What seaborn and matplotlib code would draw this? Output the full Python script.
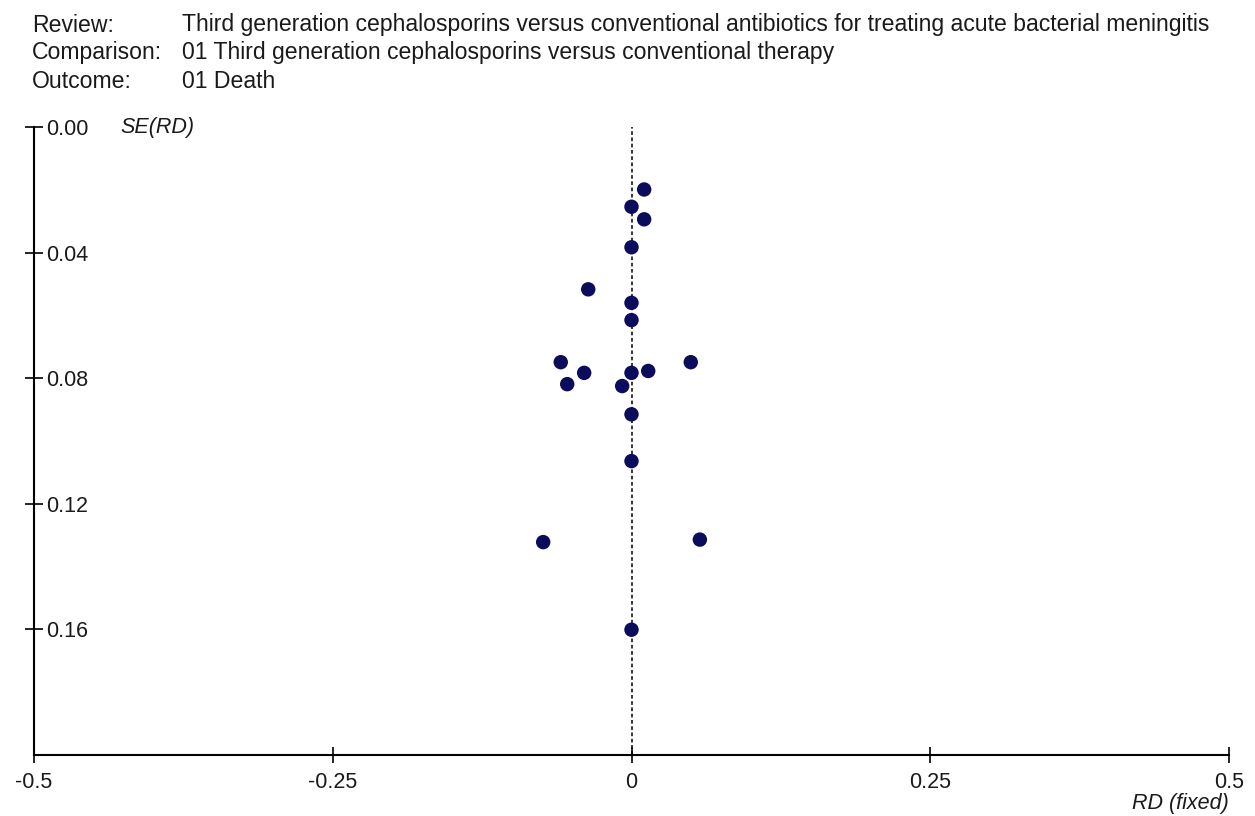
import matplotlib
matplotlib.use("Agg")
import matplotlib.pyplot as plt
import seaborn as sns
import pandas as pd

# Study-level risk differences and their standard errors
rd = [0.0106, 0.0, 0.0106, 0.0, -0.0362, 0.0, 0.0, -0.0592, 0.0496,
      -0.0396, -0.0538, 0.0, 0.0140, -0.0078, 0.0, 0.0, -0.0739, 0.0572, 0.0]
se = [0.0199, 0.0254, 0.0294, 0.0383, 0.0517, 0.0560, 0.0615, 0.0749, 0.0749,
      0.0783, 0.0819, 0.0783, 0.0777, 0.0825, 0.0915, 0.1064, 0.1322, 0.1314, 0.1601]

x_ticks = [-0.5, -0.25, 0, 0.25, 0.5]
x_tick_labels = ["-0.5", "-0.25", "0", "0.25", "0.5"]
y_ticks = [0.00, 0.04, 0.08, 0.12, 0.16]
y_tick_labels = ["0.00", "0.04", "0.08", "0.12", "0.16"]

header_keys = ["Review:", "Comparison:", "Outcome:"]
header_values = [
    "Third generation cephalosporins versus conventional antibiotics for treating acute bacterial meningitis",
    "01 Third generation cephalosporins versus conventional therapy",
    "01 Death",
]

df = pd.DataFrame({"RD": rd, "SE": se})

sns.set_theme(style="white")
plt.rcParams["font.family"] = ["Liberation Sans", "DejaVu Sans"]

W, H = 1255, 816
fig = plt.figure(figsize=(W / 100, H / 100), dpi=100)
ax = fig.add_axes([34 / W, 1 - 755 / H, (1229 - 34) / W, (755 - 127) / H])

sns.scatterplot(data=df, x="RD", y="SE", ax=ax, color="#0c0c5c", s=108,
                edgecolor="none", zorder=3)

ax.axvline(0, color="black", linestyle=(0, (2.4, 1.7)), linewidth=1.1, zorder=2)

ax.set_xlim(-0.5, 0.5)
ax.set_ylim(0.2, 0.0)

for side in ("top", "right"):
    ax.spines[side].set_visible(False)
for side in ("left", "bottom"):
    ax.spines[side].set_color("black")
    ax.spines[side].set_linewidth(1.5)

tick_fs = 15.5
ax.set_xticks(x_ticks)
ax.set_xticklabels(x_tick_labels, fontsize=tick_fs, color="#1a1a1a")
ax.set_yticks(y_ticks)
ax.set_yticklabels(y_tick_labels, fontsize=tick_fs, color="#1a1a1a")
ax.tick_params(axis="x", bottom=True, direction="inout", length=12, width=1.2,
               color="black", pad=6.0)
ax.tick_params(axis="y", left=True, direction="inout", length=13, width=1.2,
               color="black", pad=-15.0)
for lbl in ax.get_yticklabels():
    lbl.set_horizontalalignment("left")

ax.set_ylabel("SE(RD)", rotation=0, fontsize=tick_fs, style="italic",
              color="#1a1a1a", ha="left", va="center")
ax.yaxis.set_label_coords(86 / (1229 - 34), 1.0)
ax.set_xlabel("RD (fixed)", fontsize=tick_fs, style="italic",
              color="#1a1a1a", ha="right", va="center")
ax.xaxis.set_label_coords(1.0, -(803 - 755) / (755 - 127))

# Header block, sized so the review title spans its line
renderer = fig.canvas.get_renderer()
probe = fig.text(0, 0, header_values[0], fontsize=14)
w = probe.get_window_extent(renderer).width
probe.remove()
head_fs = 14 * (1220 - 182) / w

for key, val, yc in zip(header_keys, header_values, [25, 53, 82]):
    fig.text(32 / W, 1 - yc / H, key, fontsize=head_fs, color="#1a1a1a",
             ha="left", va="center")
    fig.text(182 / W, 1 - yc / H, val, fontsize=head_fs, color="#1a1a1a",
             ha="left", va="center")

fig.savefig("out.png", dpi=100, facecolor="white")
